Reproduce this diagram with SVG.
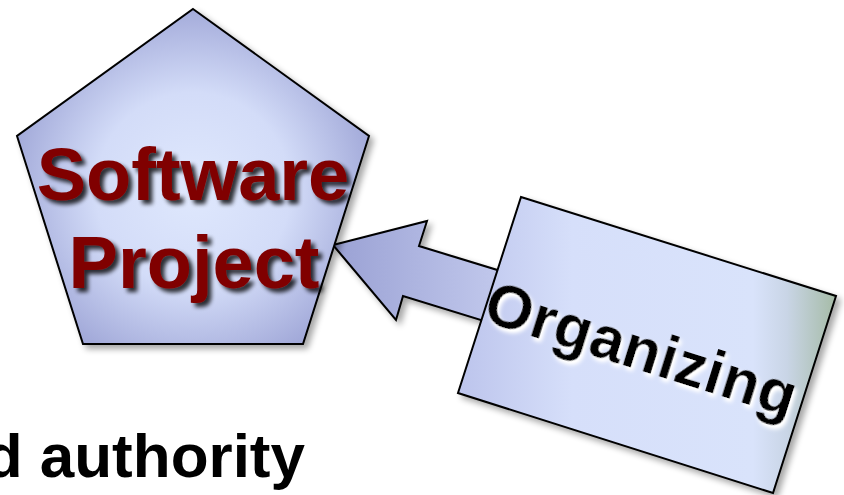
<svg xmlns="http://www.w3.org/2000/svg" width="844" height="495" viewBox="0 0 844 495">
<defs>
  <radialGradient id="pentFill" cx="193" cy="190" r="195" gradientUnits="userSpaceOnUse">
    <stop offset="0" stop-color="#dfe8fd"/>
    <stop offset="0.5" stop-color="#d3dcf8"/>
    <stop offset="1" stop-color="#9ca3d5"/>
  </radialGradient>
  <linearGradient id="arrowFill" x1="333" y1="0" x2="520" y2="0" gradientUnits="userSpaceOnUse">
    <stop offset="0" stop-color="#9aa1d4"/>
    <stop offset="1" stop-color="#c6cdef"/>
  </linearGradient>
  <linearGradient id="rectFill" x1="458" y1="0" x2="836" y2="0" gradientUnits="userSpaceOnUse">
    <stop offset="0" stop-color="#bcc4ec"/>
    <stop offset="0.3" stop-color="#d6dffa"/>
    <stop offset="0.78" stop-color="#d9e3fb"/>
    <stop offset="0.87" stop-color="#c9d5e6"/>
    <stop offset="1" stop-color="#a5bba6"/>
  </linearGradient>
  <filter id="shapeShadow" x="-10%" y="-10%" width="125%" height="125%">
    <feGaussianBlur in="SourceAlpha" stdDeviation="3"/>
    <feOffset dx="4" dy="4" result="b"/>
    <feComponentTransfer><feFuncA type="linear" slope="0.35"/></feComponentTransfer>
    <feMerge><feMergeNode/><feMergeNode in="SourceGraphic"/></feMerge>
  </filter>
  <filter id="darkShadow" x="-10%" y="-20%" width="125%" height="150%">
    <feGaussianBlur in="SourceAlpha" stdDeviation="2"/>
    <feOffset dx="4" dy="4"/>
    <feComponentTransfer><feFuncA type="linear" slope="0.8"/></feComponentTransfer>
    <feMerge><feMergeNode/><feMergeNode in="SourceGraphic"/></feMerge>
  </filter>
  <filter id="whiteGlow" x="-10%" y="-30%" width="125%" height="170%">
    <feGaussianBlur in="SourceAlpha" stdDeviation="2"/>
    <feOffset dx="3" dy="3"/>
    <feComponentTransfer><feFuncR type="linear" slope="0" intercept="1"/><feFuncG type="linear" slope="0" intercept="1"/><feFuncB type="linear" slope="0" intercept="1"/><feFuncA type="linear" slope="1.2"/></feComponentTransfer>
    <feMerge><feMergeNode/><feMergeNode in="SourceGraphic"/></feMerge>
  </filter>
  <style>
    .outline { stroke: #000; stroke-width: 2; stroke-linejoin: miter; }
    .title { font-family: "Liberation Sans", Arial, sans-serif; font-weight: bold; }
  </style>
</defs>

<g id="connectors">
  <polygon class="outline" fill="url(#arrowFill)" filter="url(#shapeShadow)"
    points="333,245 427,221 419,246 540,283 520,332 403,296 396,320"/>
</g>

<g id="software-project">
  <polygon class="outline" fill="url(#pentFill)" filter="url(#shapeShadow)"
    points="193,9 369,136 303,344 83,344 17,136"/>
  <g filter="url(#darkShadow)">
    <text class="title" x="193" y="200" font-size="74" fill="#800000" text-anchor="middle">Software</text>
    <text class="title" x="194" y="288" font-size="74" fill="#800000" text-anchor="middle">Project</text>
  </g>
</g>

<g id="organizing">
  <polygon class="outline" fill="url(#rectFill)" filter="url(#shapeShadow)"
    points="521,197 836,296 773,493 458,393"/>
  <g transform="translate(642,348) rotate(17.5)" filter="url(#whiteGlow)">
    <text class="title" x="0" y="22" font-size="61" fill="#000" text-anchor="middle" letter-spacing="0.5">Organizing</text>
  </g>
</g>

<g id="caption">
  <text class="title" x="305" y="477" font-size="62" fill="#000" text-anchor="end">d authority</text>
</g>
</svg>
